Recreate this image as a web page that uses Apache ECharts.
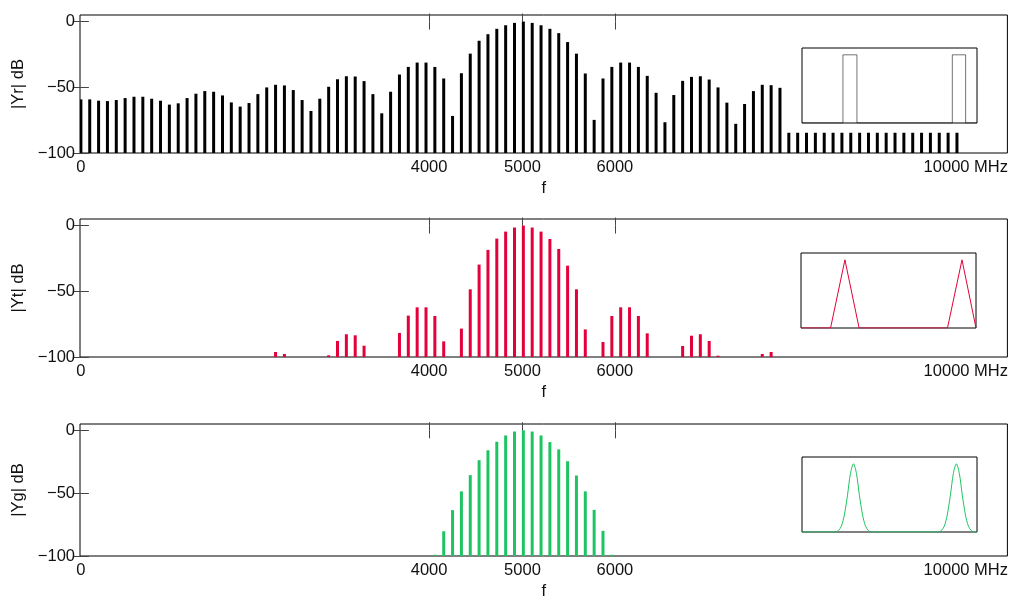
<!DOCTYPE html>
<html>
<head>
<meta charset="utf-8">
<title>spectra</title>
<script src="https://cdn.jsdelivr.net/npm/echarts@6/dist/echarts.min.js"></script>
<style>
  html, body { margin: 0; padding: 0; background: #fff; }
  #main { width: 1011px; height: 601px; }
</style>
</head>
<body>
<div id="main"></div>
<script>
// spacing of the spectral lines, MHz (line k sits at k * binMHz)
const binMHz = 100;

// |Yr| dB, lines 0..99
const rectDb = [
  -59.2, -59.2, -60.2, -60.5, -59.7, -58.2, -57.2, -57.2, -58.7, -60.2,
  -63.2, -62.2, -58.2, -54.9, -52.9, -53.4, -56.2, -61.5, -64.7, -62.0,
  -55.2, -50.1, -48.1, -48.6, -52.1, -59.7, -68.0, -58.7, -49.6, -43.9,
  -41.6, -41.8, -45.3, -55.2, -69.8, -53.4, -40.3, -34.5, -31.2, -31.2,
  -34.5, -43.3, -71.8, -39.3, -24.4, -14.6, -9.6, -5.5, -2.8, -1.0,
  0.0, -1.0, -2.8, -5.5, -8.8, -15.6, -24.4, -39.5, -74.8, -43.3,
  -34.5, -31.2, -31.2, -34.5, -41.3, -54.2, -76.6, -55.9, -45.1, -42.1,
  -41.6, -44.1, -50.1, -61.7, -77.8, -62.7, -52.9, -48.1, -48.4, -50.4,
  -84.6, -84.6, -84.6, -84.6, -84.6, -84.6, -84.6, -84.6, -84.6, -84.6,
  -84.6, -84.6, -84.6, -84.6, -84.6, -84.6, -84.6, -84.6, -84.6, -84.6
];

// |Yt| dB, lines 22..78 (null = nothing above -100)
const triStart = 22;
const triDb = [
  -96.2, -97.7, null, null, null, null, -98.7, -87.8, -82.7, -83.5,
  -91.4, null, null, null, -81.7, -68.5, -62.2, -62.2, -68.8, -88.1,
  null, -78.4, -48.5, -29.7, -18.5, -9.9, -4.6, -1.5, 0.0, -1.5,
  -4.6, -10.2, -17.8, -30.5, -48.5, -79.0, null, -88.6, -68.8, -62.2,
  -62.2, -68.8, -82.0, null, null, null, -91.6, -83.8, -82.7, -87.8,
  -99.0, null, null, null, null, -97.7, -96.2
];

// |Yg| dB, lines 40..60
const gaussStart = 40;
const gaussDb = [
  -99.0, -80.3, -63.5, -48.6, -35.7, -23.8, -15.9, -9.1, -4.1, -1.0,
  0.0, -1.0, -4.1, -9.4, -15.2, -24.6, -36.0, -48.6, -63.3, -80.0, -99.0
];

// f axis labels and where they sit in MHz; tick marks only on the inner three
const xTickAt = [0, 3935, 4990, 6035, 10000];
const xTickText = ['0', '4000', '5000', '6000', '10000 MHz'];
const xTickMarks = [3935, 4990, 6035];
const yTicks = [-100, -50, 0];

// pulse shapes drawn in the insets: [% of window, relative amplitude]
const rectPulse = [
  [0, 0], [23.4, 0], [23.4, 1], [31.4, 1], [31.4, 0],
  [85.9, 0], [85.9, 1], [93.5, 1], [93.5, 0], [100, 0]
];
const triPulse = [
  [0, 0], [16.9, 0], [25.1, 1], [33.2, 0], [83.7, 0], [92, 1], [100, 0]
];
const gaussPulse = [
  [0, 0], [19.1, 0], [20.8, 0.02], [22.5, 0.085], [24.2, 0.25], [26, 0.54],
  [27.7, 0.86], [29.4, 1], [31.1, 0.86], [32.8, 0.54], [34.6, 0.25],
  [36.3, 0.085], [38, 0.02], [39.7, 0], [77.9, 0], [79.6, 0.02],
  [81.3, 0.085], [83, 0.25], [84.8, 0.54], [86.5, 0.86], [88.2, 1],
  [89.9, 0.86], [91.6, 0.54], [93.4, 0.25], [95.1, 0.085], [96.8, 0.02],
  [98.5, 0], [100, 0]
];

function lines(start, values) {
  return values
    .map((v, i) => [(start + i) * binMHz, v])
    .filter(d => d[1] !== null);
}

const panels = [
  { name: '|Yr| dB', color: '#000000', data: lines(0, rectDb), top: 15,
    inset: { pulse: rectPulse, color: 'rgba(0,0,0,0.55)', left: 802, top: 48, smooth: false } },
  { name: '|Yt| dB', color: '#e3003b', data: lines(triStart, triDb), top: 219,
    inset: { pulse: triPulse, color: '#e3003b', left: 801, top: 253, smooth: false } },
  { name: '|Yg| dB', color: '#1ec462', data: lines(gaussStart, gaussDb), top: 424,
    inset: { pulse: gaussPulse, color: '#1ec462', left: 802, top: 457, smooth: 0.3 } }
];

const yMin = -100, yMax = 5;
const xMin = -10, xMax = 10470;

const font = { fontFamily: 'Liberation Sans, Arial, sans-serif', fontSize: 16.5, color: '#111' };
const tick = { show: true, inside: true, length: 8, lineStyle: { color: '#444', width: 1 } };

// a spectral line: a thin bar from -100 dB up to its value
function stem(params, api) {
  const f = api.value(0);
  const top = api.coord([f, api.value(1)]);
  const base = api.coord([f, yMin]);
  return {
    type: 'rect',
    shape: { x: top[0] - 1.5, y: top[1], width: 3, height: base[1] - top[1] },
    style: { fill: api.visual('color') }
  };
}

const grid = [], xAxis = [], yAxis = [], series = [];

panels.forEach((p, i) => {
  grid.push({ left: 80, right: 2, top: p.top, height: 138, show: true,
    borderColor: '#000', borderWidth: 1, backgroundColor: '#fff' });
  const xi = xAxis.length, yi = yAxis.length;
  xAxis.push({
    type: 'value', gridIndex: i, position: 'bottom', min: xMin, max: xMax,
    name: 'f', nameLocation: 'middle', nameGap: 27, nameTextStyle: font,
    axisLine: { show: false }, splitLine: { show: false },
    axisTick: Object.assign({ customValues: xTickMarks }, tick),
    axisLabel: Object.assign({ customValues: xTickAt, margin: 6,
      formatter: v => xTickText[xTickAt.indexOf(v)] }, font)
  }, {
    type: 'value', gridIndex: i, position: 'top', min: xMin, max: xMax,
    axisLine: { show: false }, splitLine: { show: false }, axisLabel: { show: false },
    axisTick: Object.assign({ customValues: xTickMarks }, tick)
  });
  yAxis.push({
    type: 'value', gridIndex: i, position: 'left', min: yMin, max: yMax,
    name: p.name, nameLocation: 'middle', nameRotate: 90, nameGap: 48, nameTextStyle: font,
    axisLine: { show: false }, splitLine: { show: false },
    axisTick: Object.assign({ customValues: yTicks }, tick),
    axisLabel: Object.assign({ customValues: yTicks, margin: 5,
      formatter: v => String(v).replace('-', '\u2212') }, font)
  }, {
    type: 'value', gridIndex: i, position: 'right', min: yMin, max: yMax,
    axisLine: { show: false }, splitLine: { show: false }, axisLabel: { show: false },
    axisTick: Object.assign({ customValues: yTicks }, tick)
  });
  series.push({
    type: 'custom', xAxisIndex: xi, yAxisIndex: yi, renderItem: stem,
    encode: { x: 0, y: 1 }, clip: true, itemStyle: { color: p.color }, data: p.data
  });
});

// the small pulse-shape windows
panels.forEach((p, i) => {
  const gi = grid.length;
  grid.push({ left: p.inset.left, top: p.inset.top, width: 175, height: 75, show: true,
    borderColor: '#000', borderWidth: 1, backgroundColor: '#fff' });
  const xi = xAxis.length, yi = yAxis.length;
  xAxis.push({ type: 'value', gridIndex: gi, min: 0, max: 100, show: false });
  yAxis.push({ type: 'value', gridIndex: gi, min: 0, max: 1.1, show: false });
  series.push({
    type: 'line', xAxisIndex: xi, yAxisIndex: yi, symbol: 'none', smooth: p.inset.smooth,
    lineStyle: { width: 1, color: p.inset.color }, data: p.inset.pulse
  });
});

const chart = echarts.init(document.getElementById('main'));
chart.setOption({
  animation: false,
  backgroundColor: '#fff',
  grid: grid,
  xAxis: xAxis,
  yAxis: yAxis,
  series: series
});
</script>
</body>
</html>
